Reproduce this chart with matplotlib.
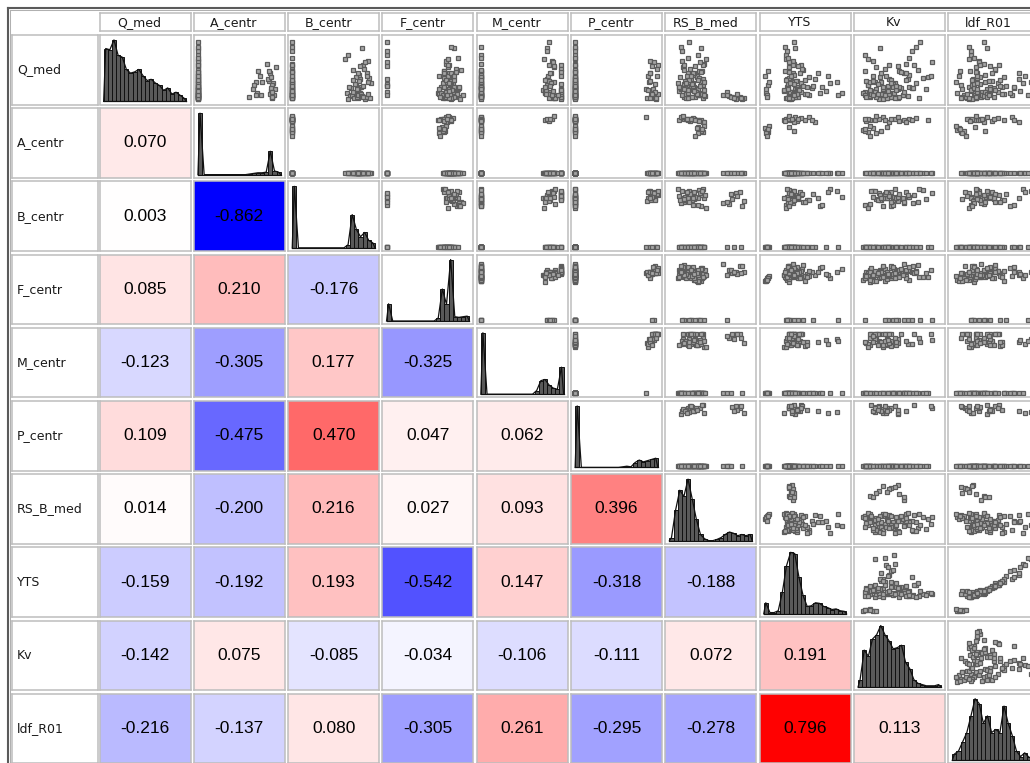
import matplotlib
matplotlib.use('Agg')
import matplotlib.pyplot as plt
from matplotlib.lines import Line2D
import numpy as np

W, H = 1030, 763

names = ['Q_med', 'A_centr', 'B_centr', 'F_centr', 'M_centr', 'P_centr',
         'RS_B_med', 'YTS', 'Kv', 'ldf_R01']

# ---- observations (normalised 0..1), estimated from the scatter cells ----
Q_med = [
    0.15, 0.05, 0.32, 0.22, 0.08, 0.45, 0.12, 0.28, 0.35, 0.03, 0.18, 0.38, 0.10, 0.25, 0.60, 0.06, 0.55, 0.20, 0.48, 0.14, 0.09, 0.30,
    0.12, 0.25, 0.40, 0.08, 0.30, 0.18, 0.48, 0.05,
    0.04, 0.20, 0.65, 0.12, 0.35, 0.02, 0.50, 0.16, 0.28, 0.07,
    0.42, 0.10, 0.05, 0.75, 0.22, 0.30, 0.14, 0.08, 0.58, 0.26,
    0.18, 0.36, 0.03, 0.24, 0.68, 0.12, 0.06, 0.45, 0.20, 0.85,
    0.09, 0.52, 0.14, 0.32, 0.04, 0.22, 0.10, 0.38, 0.62, 0.16,
    0.26, 0.07, 0.40, 0.02, 0.56, 0.19, 0.11, 0.34, 0.05, 0.44,
    0.28, 0.13, 0.80, 0.06, 0.04, 0.47, 0.21, 0.95, 0.03, 0.33, 0.17, 0.58, 0.09, 0.70, 0.11, 0.08, 0.39, 0.24, 0.88, 0.15,
]
A_centr = [
    0.88, 0.90, 0.86, 0.89, 0.92, 0.87, 0.88, 0.91, 0.85, 0.89, 0.93, 0.88, 0.87, 0.90, 0.84, 0.89, 0.94, 0.88, 0.86, 0.90, 0.76, 0.70,
    0.72, 0.68, 0.75, 0.70, 0.78, 0.66, 0.73, 0.62,
    0, 0, 0, 0, 0, 0, 0, 0, 0, 0,
    0, 0, 0, 0, 0, 0, 0, 0, 0, 0,
    0, 0, 0, 0, 0, 0, 0, 0, 0, 0,
    0, 0, 0, 0, 0, 0, 0, 0, 0, 0,
    0, 0, 0, 0, 0, 0, 0, 0, 0, 0,
    0, 0, 0, 0, 0, 0, 0, 0, 0, 0, 0, 0, 0, 0, 0, 0, 0, 0, 0, 0,
]
B_centr = [
    0, 0, 0, 0, 0, 0, 0, 0, 0, 0, 0, 0, 0, 0, 0, 0, 0, 0, 0, 0, 0, 0,
    0, 0, 0, 0, 0, 0, 0, 0,
    0.80, 0.78, 0.92, 0.66, 0.82, 0.88, 0.74, 0.79, 0.95, 0.70,
    0.81, 0.76, 0.89, 0.68, 0.83, 0.91, 0.79, 0.72, 0.85, 0.77,
    0.80, 0.93, 0.75, 0.86, 0.64, 0.82, 0.78, 0.90, 0.71, 0.84,
    0.79, 0.87, 0.73, 0.81, 0.94, 0.69, 0.83, 0.77, 0.88, 0.80,
    0.76, 0.84, 0.90, 0.67, 0.82, 0.78, 0.92, 0.74, 0.86, 0.80,
    0, 0, 0, 0, 0, 0, 0, 0, 0, 0, 0, 0, 0, 0, 0, 0, 0, 0, 0, 0,
]
F_centr = [
    0.74, 0.70, 0.78, 0.66, 0.72, 0.75, 0.62, 0.80, 0.73, 0.68, 0.76, 0.71, 0.64, 0.77, 0.72, 0.69, 0.74, 0.78, 0.70, 0.73, 0.67, 0.71,
    0.66, 0.70, 0.64, 0.68, 0.72, 0.63, 0.69, 0.65,
    0.76, 0.80, 0.72, 0.85, 0.00, 0.78, 0.90, 0.74, 0.68, 0.82,
    0.80, 0.75, 0.88, 0.00, 0.82, 0.78, 0.72, 0.92, 0.76, 0.00,
    0.86, 0.70, 0.79, 0.00, 0.74, 0.83, 0.77, 0.69, 0.88, 0.81,
    0.73, 0.84, 0.00, 0.78, 0.71, 0.87, 0.75, 0.80, 0.00, 0.79,
    0.77, 0.82, 0.74, 0.89, 0.00, 0.76, 0.85, 0.72, 0.81, 0.78,
    0.75, 0.80, 0.00, 0.72, 0.78, 0.84, 0.70, 0.00, 0.76, 0.82, 0.79, 0.74, 0.00, 0.86, 0.77, 0.73, 0.81, 0.00, 0.78, 0.75,
]
M_centr = [
    0, 0, 0.82, 0, 0, 0, 0.78, 0, 0, 0.86, 0, 0, 0, 0.80, 0, 0, 0.88, 0, 0, 0.84, 0, 0,
    0, 0, 0, 0, 0, 0, 0, 0,
    0.97, 0, 0.86, 0, 0.80, 0.97, 0, 0.75, 0, 0.90,
    0, 0.84, 0.97, 0, 0, 0.88, 0.78, 0, 0.97, 0,
    0.97, 0, 0.82, 0, 0.76, 0, 0.97, 0.85, 0, 0.80,
    0, 0.97, 0, 0.83, 0.90, 0, 0.97, 0, 0.87, 0.79,
    0.97, 0, 0.81, 0, 0.88, 0, 0.97, 0.77, 0, 0.84,
    0.85, 0.97, 0.80, 0, 0.88, 0.97, 0.78, 0.83, 0.90, 0, 0.97, 0.82, 0.86, 0, 0.79, 0.93, 0.97, 0.84, 0, 0.87,
]
P_centr = [
    0, 0, 0, 0, 0, 0, 0, 0, 0, 0, 0.86, 0, 0, 0, 0, 0, 0, 0, 0, 0, 0, 0,
    0, 0, 0, 0, 0, 0, 0, 0,
    0.95, 0, 0.90, 0, 0, 0.98, 0, 0.88, 0, 0,
    0, 0.92, 0.96, 0, 0, 0.89, 0, 0, 1.00, 0,
    0.94, 0, 0.87, 0, 0, 0, 0.97, 0.91, 0, 0,
    0, 0.99, 0, 0.90, 0, 0, 0.93, 0, 0.95, 0,
    0.97, 0, 0.88, 0, 0.93, 0, 1.00, 0, 0, 0.91,
    0, 0.96, 0, 0, 0.90, 0, 0, 0, 0.98, 0, 0, 0, 0, 0, 0.93, 0, 0.99, 0, 0, 0,
]
RS_B_med = [
    0.12, 0.18, 0.25, 0.30, 0.15, 0.22, 0.35, 0.28, 0.40, 0.20, 0.14, 0.33, 0.38, 0.24, 0.42, 0.26, 0.16, 0.31, 0.36, 0.21, 0.34, 0.38,
    0.36, 0.40, 0.33, 0.38, 0.42, 0.35, 0.39, 0.31,
    0.22, 0.30, 0.15, 0.38, 0.26, 0.80, 0.18, 0.42, 0.10, 0.72,
    0.28, 0.20, 0.85, 0.35, 0.12, 0.24, 0.32, 0.65, 0.40, 0.18,
    0.16, 0.36, 0.90, 0.26, 0.44, 0.22, 0.76, 0.30, 0.14, 0.38,
    0.34, 0.25, 0.70, 0.19, 0.41, 0.28, 0.82, 0.13, 0.37, 0.23,
    0.27, 0.43, 0.21, 0.88, 0.31, 0.17, 0.39, 0.24, 0.74, 0.29,
    0.20, 0.32, 0.15, 0.27, 0.78, 0.38, 0.11, 0.24, 0.86, 0.35, 0.29, 0.18, 0.42, 0.23, 0.33, 0.69, 0.26, 0.37, 0.14, 0.30,
]
YTS = [
    0.25, 0.32, 0.40, 0.28, 0.55, 0.35, 0.30, 0.45, 0.62, 0.27, 0.38, 0.33, 0.50, 0.29, 0.36, 0.42, 0.31, 0.58, 0.26, 0.34, 0.30, 0.37,
    0.03, 0.05, 0.02, 0.04, 0.06, 0.03, 0.05, 0.04,
    0.30, 0.42, 0.35, 0.68, 0.28, 0.33, 0.48, 0.25, 0.80, 0.30,
    0.36, 0.52, 0.30, 0.27, 0.40, 0.88, 0.33, 0.35, 0.45, 0.29,
    0.40, 0.31, 0.34, 0.60, 0.27, 0.95, 0.36, 0.44, 0.29, 0.38,
    0.33, 0.46, 0.32, 0.39, 0.28, 0.70, 0.35, 0.55, 0.30, 0.42,
    0.37, 0.34, 0.78, 0.31, 0.41, 0.29, 0.36, 0.50, 0.33, 0.65,
    0.32, 0.45, 0.28, 0.38, 0.34, 0.30, 0.52, 0.36, 0.31, 0.27, 0.43, 0.35, 0.90, 0.29, 0.40, 0.37, 0.33, 0.48, 0.26, 0.75,
]
Kv = [
    0.20, 0.45, 0.10, 0.62, 0.30, 0.55, 0.15, 0.70, 0.38, 0.25, 0.48, 0.85, 0.33, 0.12, 0.58, 0.40, 0.22, 0.65, 0.50, 0.08, 0.35, 0.28,
    0.06, 0.12, 0.18, 0.09, 0.15, 0.22, 0.08, 0.14,
    0.35, 0.52, 0.18, 0.40, 0.60, 0.25, 0.72, 0.30, 0.45, 0.15,
    0.62, 0.28, 0.40, 0.08, 0.50, 0.20, 0.35, 0.55, 0.68, 0.42,
    0.30, 0.78, 0.48, 0.36, 0.12, 0.44, 0.22, 0.58, 0.66, 0.26,
    0.54, 0.32, 0.56, 0.18, 0.74, 0.42, 0.38, 0.26, 0.90, 0.46,
    0.24, 0.60, 0.34, 0.30, 0.48, 0.82, 0.16, 0.40, 0.50, 0.28,
    0.40, 0.20, 0.65, 0.10, 0.35, 0.52, 0.30, 0.75, 0.45, 0.58, 0.14, 0.38, 0.32, 0.62, 0.24, 0.18, 0.88, 0.46, 0.70, 0.36,
]
ldf_R01 = [
    0.22, 0.35, 0.48, 0.20, 0.72, 0.30, 0.26, 0.55, 0.80, 0.18, 0.42, 0.33, 0.62, 0.24, 0.38, 0.50, 0.28, 0.75, 0.21, 0.36, 0.27, 0.40,
    0.06, 0.10, 0.08, 0.14, 0.05, 0.12, 0.09, 0.16,
    0.28, 0.50, 0.32, 0.70, 0.25, 0.20, 0.52, 0.22, 0.85, 0.38,
    0.40, 0.60, 0.15, 0.22, 0.45, 0.95, 0.30, 0.35, 0.56, 0.26,
    0.45, 0.30, 0.25, 0.65, 0.20, 0.98, 0.12, 0.48, 0.26, 0.42,
    0.36, 0.52, 0.40, 0.44, 0.28, 0.75, 0.18, 0.62, 0.32, 0.50,
    0.34, 0.38, 0.88, 0.24, 0.46, 0.30, 0.42, 0.58, 0.28, 0.80,
    0.30, 0.55, 0.22, 0.42, 0.20, 0.28, 0.60, 0.38, 0.10, 0.24, 0.52, 0.34, 0.92, 0.26, 0.46, 0.44, 0.30, 0.58, 0.20, 0.82,
]

# ---- diagonal histograms: relative bar heights (20 bins over the range) ----
hist_Q_med = [0.86, 0.84, 1.00, 0.75, 0.72, 0.52, 0.46, 0.48, 0.52, 0.42, 0.34, 0.36, 0.30, 0.26, 0.18, 0.22, 0.12, 0.15, 0.10, 0.05]
hist_A_centr = [1.00, 0, 0, 0, 0, 0, 0, 0, 0, 0, 0, 0, 0.01, 0.02, 0.03, 0.03, 0.04, 0.38, 0.06, 0.04]
hist_B_centr = [1.00, 0, 0, 0, 0, 0, 0, 0, 0, 0, 0, 0, 0, 0.05, 0.54, 0.30, 0.18, 0.25, 0.12, 0.08]
hist_F_centr = [0.28, 0, 0, 0, 0, 0, 0, 0, 0, 0, 0, 0, 0.05, 0.52, 0.27, 1.00, 0.07, 0.06, 0.07, 0.08]
hist_M_centr = [1.00, 0, 0, 0, 0, 0, 0, 0, 0, 0, 0, 0, 0, 0.06, 0.22, 0.24, 0.15, 0.10, 0.08, 0.44]
hist_P_centr = [1.00, 0, 0, 0, 0, 0, 0, 0, 0, 0, 0, 0.01, 0.02, 0.01, 0.08, 0.12, 0.09, 0.11, 0.13, 0.15]
hist_RS_B_med = [0.05, 0.50, 0.82, 0.72, 1.00, 0.68, 0.35, 0.10, 0.03, 0, 0, 0.02, 0.05, 0.10, 0.14, 0.12, 0.08, 0.10, 0.08, 0.10]
hist_YTS = [0.18, 0.02, 0.02, 0.05, 0.35, 0.78, 1.00, 0.98, 0.60, 0.30, 0.12, 0.13, 0.18, 0.17, 0.12, 0.10, 0.07, 0.08, 0.05, 0.04]
hist_Kv = [0.12, 0.60, 0.50, 0.78, 0.85, 1.00, 0.85, 0.75, 0.62, 0.64, 0.68, 0.40, 0.30, 0.12, 0.06, 0.04, 0.02, 0.02, 0.02, 0.04]
hist_ldf_R01 = [0.10, 0.15, 0.30, 0.45, 0.72, 1.00, 0.92, 0.60, 0.72, 0.45, 0.50, 0.45, 0.88, 0.60, 0.40, 0.15, 0.06, 0.12, 0.05, 0.03]

# ---- correlation coefficients (lower triangle, row by row) ----
corr_A_centr = [0.070]
corr_B_centr = [0.003, -0.862]
corr_F_centr = [0.085, 0.210, -0.176]
corr_M_centr = [-0.123, -0.305, 0.177, -0.325]
corr_P_centr = [0.109, -0.475, 0.470, 0.047, 0.062]
corr_RS_B_med = [0.014, -0.200, 0.216, 0.027, 0.093, 0.396]
corr_YTS = [-0.159, -0.192, 0.193, -0.542, 0.147, -0.318, -0.188]
corr_Kv = [-0.142, 0.075, -0.085, -0.034, -0.106, -0.111, 0.072, 0.191]
corr_ldf_R01 = [-0.216, -0.137, 0.080, -0.305, 0.261, -0.295, -0.278, 0.796, 0.113]

data = dict(zip(names, [Q_med, A_centr, B_centr, F_centr, M_centr, P_centr,
                        RS_B_med, YTS, Kv, ldf_R01]))
hists = dict(zip(names, [hist_Q_med, hist_A_centr, hist_B_centr, hist_F_centr,
                         hist_M_centr, hist_P_centr, hist_RS_B_med, hist_YTS,
                         hist_Kv, hist_ldf_R01]))
corr_rows = [[], corr_A_centr, corr_B_centr, corr_F_centr, corr_M_centr,
             corr_P_centr, corr_RS_B_med, corr_YTS, corr_Kv, corr_ldf_R01]

# ---- layout (pixels) ----
COL_X0, COL_DX, CELL_W = 99.5, 94.3, 91.0
ROW_Y0, ROW_DY, CELL_H = 35.0, 73.2, 69.5
LAB_X0, LAB_W = 12.0, 85.5
HEAD_Y0, HEAD_H = 13.0, 17.5
BORDER = '#bdbdbd'

fig = plt.figure(figsize=(W / 100, H / 100), dpi=100)
fig.patch.set_facecolor('white')


def add_ax(x0, y0, w, h, face='white'):
    ax = fig.add_axes([x0 / W, 1 - (y0 + h) / H, w / W, h / H])
    ax.set_facecolor(face)
    ax.set_xticks([])
    ax.set_yticks([])
    for s in ax.spines.values():
        s.set_color(BORDER)
        s.set_linewidth(1.1)
    return ax


def corr_color(r):
    t = min(abs(r) / 0.8, 1.0)
    if r >= 0:
        return (1.0, 1 - t, 1 - t)
    return (1 - t, 1 - t, 1.0)


n = len(names)
# header boxes
for k, nm in enumerate(names):
    ax = add_ax(COL_X0 + COL_DX * k, HEAD_Y0, CELL_W, HEAD_H)
    ax.text(0.44, 0.47, nm, ha='center', va='center', fontsize=9,
            family='DejaVu Sans', color='#1a1a1a', transform=ax.transAxes)

# row labels
for i, nm in enumerate(names):
    ax = add_ax(LAB_X0, ROW_Y0 + ROW_DY * i, LAB_W, CELL_H)
    ax.text(0.06, 0.5, nm, ha='left', va='center', fontsize=9,
            family='DejaVu Sans', color='#1a1a1a', transform=ax.transAxes)

nb = 20
edges = np.linspace(0, 1, nb + 1)
centers = (edges[:-1] + edges[1:]) / 2

for i in range(n):
    for j in range(n):
        x0 = COL_X0 + COL_DX * j
        y0 = ROW_Y0 + ROW_DY * i
        if i == j:
            ax = add_ax(x0, y0, CELL_W, CELL_H)
            h = hists[names[i]]
            ax.bar(centers, h, width=1 / nb, color='#595959',
                   edgecolor='#111111', linewidth=0.7, zorder=2)
            px = [0] + list(centers) + [1]
            py = [0] + list(h) + [0]
            ax.plot(px, py, color='#111111', lw=0.9, zorder=3)
            ax.plot([0, 1], [0, 0], color='#111111', lw=0.9, zorder=3)
            ax.set_xlim(-0.05, 1.05)
            ax.set_ylim(-0.05, 1.08)
        elif j > i:
            ax = add_ax(x0, y0, CELL_W, CELL_H)
            ax.plot(data[names[j]], data[names[i]], ls='none', marker='s',
                    ms=3.2, mfc='#a6a6a6', mec='#5c5c5c', mew=0.9)
            ax.set_xlim(-0.05, 1.05)
            ax.set_ylim(-0.07, 1.07)
        else:
            r = corr_rows[i][j]
            ax = add_ax(x0, y0, CELL_W, CELL_H, face=corr_color(r))
            ax.text(0.5, 0.5, f'{r:.3f}', ha='center', va='center',
                    fontsize=12.5, family='Liberation Sans', color='black',
                    transform=ax.transAxes)

# outer frame (left and top)
fig.add_artist(Line2D([7.5 / W, 7.5 / W], [0, 1 - 7.5 / H], color='#5a5a5a',
                      lw=1.5, transform=fig.transFigure))
fig.add_artist(Line2D([7.5 / W, 1], [1 - 7.5 / H, 1 - 7.5 / H], color='#5a5a5a',
                      lw=1.5, transform=fig.transFigure))
fig.add_artist(Line2D([9.5 / W, 9.5 / W], [0, 1 - 9.5 / H], color='#b0b0b0',
                      lw=0.75, transform=fig.transFigure))
fig.add_artist(Line2D([9.5 / W, 1], [1 - 9.5 / H, 1 - 9.5 / H], color='#b0b0b0',
                      lw=0.75, transform=fig.transFigure))

fig.savefig('out.png', dpi=100, facecolor='white')
